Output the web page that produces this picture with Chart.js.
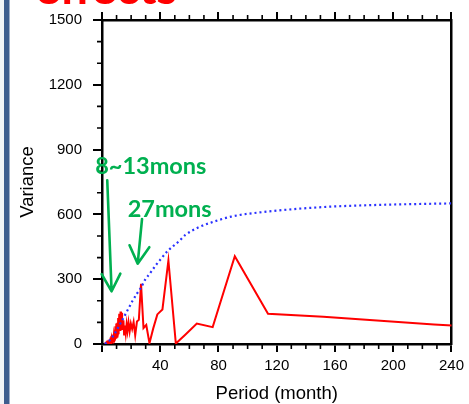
<!DOCTYPE html>
<html>
<head>
<meta charset="utf-8">
<script src="https://cdn.jsdelivr.net/npm/chart.js@4/dist/chart.umd.min.js"></script>
<style>
  html, body { margin: 0; padding: 0; background: #fff; }
  #wrap { position: relative; width: 469px; height: 404px; overflow: hidden; }
  canvas { display: block; }
</style>
</head>
<body>
<div id="wrap"><canvas id="c" width="469" height="404"></canvas></div>
<script>
// Power spectrum of the monthly series: period (months) and variance
const periods = [
  456, 228, 152, 114, 91.2, 76, 65.1, 57, 50.7, 45.6, 41.5,
  38, 35.1, 32.6, 30.4, 28.5, 26.8, 25.3, 24, 22.8, 21.7,
  20.7, 19.8, 19, 18.2, 17.5, 16.9, 16.3, 15.7, 15.2, 14.7,
  14.3, 13.8, 13.4, 13.0, 12.7, 12.3, 12.0, 11.7, 11.4, 11.1,
  10.9, 10.6, 10.4, 10.1, 9.9, 9.7, 9.5, 9.3, 9.1, 8.9,
  8.8, 8.6, 8.4, 8.3, 8.1, 8.0, 7.7, 7.4, 7.1, 6.9,
  6.6, 6.3, 6.0, 5.7, 5.4, 5.0, 4.6, 4.2, 3.8, 3.4,
  3.0, 2.6, 2.2, 2.0
];
const variance = [
  15, 90, 126, 140, 406, 78, 95, 42, 2, 387, 160,
  137, 70, 4, 88, 74, 279, 112, 104, 40, 102,
  70, 95, 58, 100, 60, 92, 48, 85, 40, 110,
  70, 145, 95, 150, 60, 130, 80, 140, 50, 120,
  45, 98, 30, 78, 95, 25, 68, 40, 82, 20,
  55, 30, 62, 15, 40, 22, 45, 12, 30, 8,
  25, 10, 18, 6, 14, 4, 10, 3, 8, 2,
  6, 2, 4, 3
];

// Red-noise reference spectrum
const noisePeriods = [2, 6.5, 14.4, 17.6, 21, 24, 26.7, 30, 32.5, 37, 40, 45, 52.7, 57.3, 66.3, 75.3, 88.8, 113.6, 152, 190, 240];
const noiseVariance = [0, 26, 117, 157, 200, 233, 260, 302, 323, 365, 390, 430, 475, 505, 540, 563, 590, 613, 634, 644, 651];

// Axis ticks
const xTicks = [0, 40, 80, 120, 160, 200, 240];
const yTicks = [0, 300, 600, 900, 1200, 1500];

// Callouts: text anchors and arrows in data units (period, variance)
const callouts = [
  { text: '8~13mons', at: [-4.7, 786],
    arrow: { from: [3.6, 758], tip: [6.6, 244], wings: [[-0.2, 323], [12.6, 326]] } },
  { text: '27mons', at: [17.6, 590],
    arrow: { from: [27.5, 579], tip: [24.5, 372], wings: [[18.9, 457], [32.5, 448]] } }
];

const spectrum = periods.map((p, i) => ({ x: p, y: variance[i] }));
const noise = noisePeriods.map((p, i) => ({ x: p, y: noiseVariance[i] }));

const tickFont = { family: 'Liberation Sans, Arial, sans-serif', size: 15 };

const decorations = {
  id: 'decorations',
  beforeDraw(chart) {
    const ctx = chart.ctx;
    ctx.save();
    ctx.fillStyle = '#ffffff';
    ctx.fillRect(0, 0, chart.width, chart.height);
    ctx.restore();
  },
  afterDraw(chart) {
    const ctx = chart.ctx;
    const xs = chart.scales.x, ys = chart.scales.y;
    const area = chart.chartArea;
    ctx.save();

    // minor tick marks
    ctx.strokeStyle = '#000';
    ctx.lineWidth = 1.6;
    ctx.beginPath();
    for (let v = 10; v < 240; v += 10) {
      if (v % 40 === 0) continue;
      const px = xs.getPixelForValue(v);
      ctx.moveTo(px, area.bottom); ctx.lineTo(px, area.bottom + 5);
      ctx.moveTo(px, area.top); ctx.lineTo(px, area.top - 5);
    }
    for (let v = 100; v < 1500; v += 100) {
      if (v % 300 === 0) continue;
      const py = ys.getPixelForValue(v);
      ctx.moveTo(area.left, py); ctx.lineTo(area.left - 5, py);
    }
    ctx.stroke();

    // axis titles
    ctx.fillStyle = '#000';
    ctx.font = '18.5px "Liberation Sans", Arial, sans-serif';
    ctx.textAlign = 'center';
    ctx.textBaseline = 'alphabetic';
    ctx.fillText('Period (month)', (area.left + area.right) / 2, 399);
    ctx.save();
    ctx.translate(33, (area.top + area.bottom) / 2);
    ctx.rotate(-Math.PI / 2);
    ctx.fillText('Variance', 0, 0);
    ctx.restore();

    // callouts
    const P = (d) => [xs.getPixelForValue(d[0]), ys.getPixelForValue(d[1])];
    ctx.fillStyle = '#00b050';
    ctx.strokeStyle = '#00b050';
    ctx.lineWidth = 2.6;
    ctx.lineCap = 'round';
    ctx.lineJoin = 'round';
    ctx.font = 'bold 23.5px Lato, "Open Sans", sans-serif';
    ctx.textAlign = 'left';
    callouts.forEach(c => {
      const [tx, ty] = P(c.at);
      ctx.fillText(c.text, tx, ty);
      const a = c.arrow;
      const f = P(a.from), t = P(a.tip), w1 = P(a.wings[0]), w2 = P(a.wings[1]);
      ctx.beginPath();
      ctx.moveTo(f[0], f[1]); ctx.lineTo(t[0], t[1]);
      ctx.moveTo(w1[0], w1[1]); ctx.lineTo(t[0], t[1]); ctx.lineTo(w2[0], w2[1]);
      ctx.stroke();
    });

    // slide frame: side bar and heading
    ctx.fillStyle = '#f2f4f7';
    ctx.fillRect(0, 0, 4, chart.height);
    ctx.fillStyle = '#3e5d8e';
    ctx.fillRect(4, 0, 5.5, chart.height);
    ctx.fillStyle = '#ff0000';
    ctx.font = 'bold 47px Lato, "Open Sans", sans-serif';
    ctx.textAlign = 'left';
    ctx.textBaseline = 'alphabetic';
    ctx.fillText('effects', 35, 4);
    ctx.restore();
  }
};

const majorGrid = { drawOnChartArea: false, drawTicks: true, tickLength: 8, lineWidth: 2, color: '#000' };
const axisBorder = { display: true, width: 2.5, color: '#000' };

new Chart(document.getElementById('c'), {
  type: 'line',
  data: {
    datasets: [
      {
        label: 'red noise',
        data: noise,
        borderColor: '#2a32ff',
        borderWidth: 2.2,
        borderDash: [2, 3],
        pointRadius: 0,
        cubicInterpolationMode: 'monotone',
        fill: false
      },
      {
        label: 'spectrum',
        data: spectrum,
        borderColor: '#ff0000',
        borderWidth: 2,
        pointRadius: 0,
        tension: 0,
        fill: false
      }
    ]
  },
  options: {
    responsive: false,
    animation: false,
    devicePixelRatio: 1,
    layout: { padding: { left: 0, right: 12, top: 0, bottom: 0 } },
    plugins: { legend: { display: false }, tooltip: { enabled: false } },
    scales: {
      x: {
        type: 'linear', position: 'bottom', min: 0, max: 240,
        afterBuildTicks: s => { s.ticks = xTicks.map(v => ({ value: v })); },
        ticks: { callback: v => (v === 0 ? '' : String(v)), font: tickFont, color: '#000', padding: 5, maxRotation: 0, autoSkip: false },
        grid: majorGrid, border: axisBorder,
        afterFit: s => { s.height = 60; }
      },
      xTop: {
        type: 'linear', position: 'top', min: 0, max: 240,
        afterBuildTicks: s => { s.ticks = xTicks.map(v => ({ value: v })); },
        ticks: { display: false },
        grid: majorGrid, border: axisBorder,
        afterFit: s => { s.height = 16; }
      },
      y: {
        type: 'linear', position: 'left', min: 0, max: 1500,
        afterBuildTicks: s => { s.ticks = yTicks.map(v => ({ value: v })); },
        ticks: { callback: v => String(v), font: tickFont, color: '#000', padding: 11, autoSkip: false },
        grid: Object.assign({}, majorGrid, { tickLength: 9 }), border: axisBorder,
        afterFit: s => { s.width = 102; }
      },
      yRight: {
        type: 'linear', position: 'right', min: 0, max: 1500,
        ticks: { display: false },
        grid: { display: false, drawTicks: false },
        border: axisBorder,
        afterFit: s => { s.width = 0; }
      }
    }
  },
  plugins: [decorations]
});
</script>
</body>
</html>
